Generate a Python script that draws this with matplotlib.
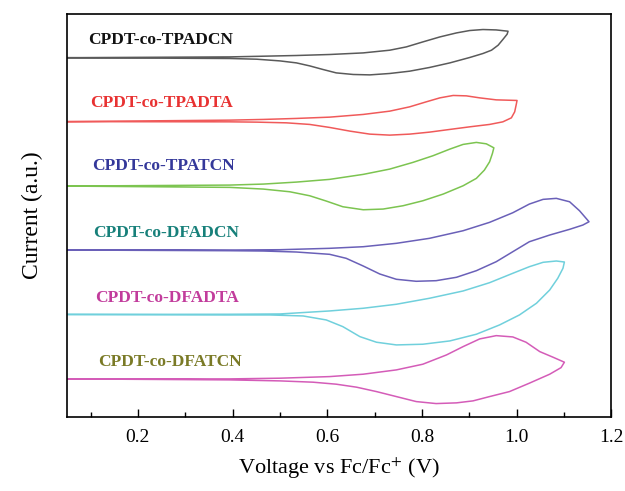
import numpy as np
import matplotlib.pyplot as plt
from matplotlib.ticker import MultipleLocator

plt.rcParams['font.family'] = ['Liberation Serif', 'DejaVu Serif']
plt.rcParams['mathtext.fontset'] = 'stix'

names = ["CPDT-co-TPADCN", "CPDT-co-TPADTA", "CPDT-co-TPATCN",
         "CPDT-co-DFADCN", "CPDT-co-DFADTA", "CPDT-co-DFATCN"]
label_colors = ["#111111", "#e83232", "#34389a", "#17807a", "#c23c9c", "#7a7a26"]
line_colors = ["#5a5a5a", "#f05a5a", "#7cc450", "#6a60b8", "#70d0dc", "#d45cb8"]
offsets = [359.5, 295.5, 231, 167, 102.5, 38]

# each scan: forward branch then reverse branch; V vs Fc/Fc+ and current (a.u.)
v_tpadcn = [0.050, 0.394, 0.465, 0.535, 0.605, 0.676, 0.732, 0.767, 0.802, 0.838,
            0.873, 0.901, 0.929, 0.957, 0.982, 0.980, 0.971, 0.961, 0.947, 0.929,
            0.901, 0.859, 0.816, 0.774, 0.732, 0.690, 0.655, 0.619, 0.591, 0.563,
            0.535, 0.500, 0.451, 0.394, 0.050]
i_tpadcn = [0, 0.8, 1.5, 2.2, 3.2, 4.8, 7.5, 10.8, 15.8, 20.8,
            24.8, 27.2, 28.2, 27.8, 26.5, 23.5, 18.2, 12.5, 7.5, 4.2,
            0.2, -5.2, -9.8, -13.5, -15.8, -17.2, -16.8, -15.2, -11.8, -8.2,
            -5.2, -3.2, -1.5, -0.8, 0]

v_tpadta = [0.050, 0.394, 0.465, 0.535, 0.605, 0.676, 0.732, 0.774, 0.809, 0.838,
            0.866, 0.894, 0.922, 0.957, 1.001, 0.999, 0.996, 0.989, 0.971, 0.943,
            0.901, 0.859, 0.816, 0.774, 0.732, 0.690, 0.648, 0.605, 0.563, 0.514,
            0.451, 0.394, 0.050]
i_tpadta = [0, 1.5, 2.2, 3.2, 4.5, 7.2, 10.5, 14.8, 19.8, 23.8,
            26.2, 25.8, 23.8, 21.8, 21.2, 16.5, 9.8, 3.8, -0.2, -2.8,
            -5.2, -7.8, -10.5, -12.5, -13.5, -12.5, -9.5, -5.8, -2.8, -1.2,
            -0.5, -0.2, 0]

v_tpatcn = [0.050, 0.394, 0.465, 0.535, 0.605, 0.676, 0.732, 0.781, 0.823, 0.859,
            0.887, 0.915, 0.936, 0.952, 0.949, 0.943, 0.932, 0.915, 0.887, 0.845,
            0.802, 0.760, 0.718, 0.676, 0.633, 0.598, 0.563, 0.521, 0.465, 0.394,
            0.050]
i_tpatcn = [0, 1, 2, 4, 6.7, 11.7, 17, 23.7, 30.3, 37,
            41.7, 43.7, 42.3, 38.3, 32.7, 24.3, 16, 7.7, 0.3, -8,
            -14.7, -19.7, -23, -23.7, -20.7, -15, -9.7, -5.7, -3, -1.3,
            0]

v_dfadcn = [0.050, 0.394, 0.500, 0.605, 0.676, 0.746, 0.816, 0.887, 0.943, 0.992,
            1.027, 1.056, 1.084, 1.112, 1.133, 1.153, 1.140, 1.112, 1.070, 1.027,
            0.992, 0.957, 0.915, 0.873, 0.830, 0.788, 0.746, 0.711, 0.676, 0.640,
            0.605, 0.535, 0.465, 0.394, 0.050]
i_dfadcn = [0, 0, 0.3, 1.7, 3.3, 6.7, 11.7, 19.3, 27.7, 37.3,
            46, 50.7, 51.7, 48.3, 39.3, 28.3, 25, 20.7, 15, 8.3,
            -1.7, -11.7, -20.7, -27.3, -30.7, -31.3, -29.3, -24, -16, -8.3,
            -4.3, -2, -1, -0.7, 0]

v_dfadta = [0.050, 0.394, 0.500, 0.605, 0.676, 0.746, 0.816, 0.887, 0.943, 0.992,
            1.027, 1.056, 1.084, 1.101, 1.098, 1.087, 1.070, 1.042, 1.006, 0.964,
            0.915, 0.859, 0.802, 0.746, 0.704, 0.669, 0.633, 0.598, 0.549, 0.479,
            0.394, 0.050]
i_dfadta = [0, 0.2, 0.5, 3.5, 6.2, 10.2, 16.2, 23.5, 31.8, 41.2,
            47.8, 52.2, 53.5, 52.5, 46.2, 36.2, 24.5, 11.2, -0.5, -10.5,
            -19.8, -26.5, -29.8, -30.5, -27.8, -22.2, -12.2, -5.5, -1.5, -0.5,
            -0.5, 0]

v_dfatcn = [0.050, 0.394, 0.500, 0.605, 0.676, 0.746, 0.802, 0.852, 0.887, 0.922,
            0.957, 0.992, 1.020, 1.049, 1.077, 1.101, 1.094, 1.070, 1.027, 0.985,
            0.943, 0.908, 0.873, 0.830, 0.788, 0.746, 0.704, 0.662, 0.619, 0.570,
            0.500, 0.394, 0.050]
i_dfatcn = [0, 0, 0.7, 2.3, 4.7, 9, 14.7, 24, 32.3, 40,
            43.3, 42, 36.7, 27.3, 21.7, 16.7, 11.3, 4.7, -4.3, -12.7,
            -17.7, -22, -24, -24.7, -22.7, -17.7, -12.7, -8.3, -5.3, -3.3,
            -2, -1, 0]

v_scans = [v_tpadcn, v_tpadta, v_tpatcn, v_dfadcn, v_dfadta, v_dfatcn]
i_scans = [i_tpadcn, i_tpadta, i_tpatcn, i_dfadcn, i_dfadta, i_dfatcn]

label_x = [0.095, 0.099, 0.104, 0.105, 0.109, 0.115]
label_y = [377, 314.5, 251.5, 184, 119, 55]

fig = plt.figure(figsize=(6.25, 4.91), dpi=100)
ax = fig.add_axes([0.107, 0.151, 0.871, 0.820])

for k in range(len(names)):
    y = np.array(i_scans[k]) + offsets[k]
    ax.plot(v_scans[k], y, color=line_colors[k], lw=1.1,
            solid_joinstyle='round', solid_capstyle='round')
    ax.text(label_x[k], label_y[k], names[k], color=label_colors[k],
            fontsize=12.5, fontweight='bold', va='center', ha='left')

ax.set_xlim(0.05, 1.2)
ax.set_ylim(0, 403)
ax.set_xticks([0.2, 0.4, 0.6, 0.8, 1.0, 1.2])
ax.set_xticklabels(["0.2", "0.4", "0.6", "0.8", "1.0", "1.2"])
ax.xaxis.set_minor_locator(MultipleLocator(0.1))
ax.tick_params(axis='x', which='major', direction='in', length=6, width=1,
               labelsize=14, pad=9)
ax.tick_params(axis='x', which='minor', direction='in', length=3.5, width=1)
ax.set_yticks([])
for s in ax.spines.values():
    s.set_linewidth(1.2)

ax.set_xlabel("Voltage vs Fc/Fc$^{+}$ (V)", fontsize=16, labelpad=7)
ax.set_ylabel("Current (a.u.)", fontsize=17, labelpad=17)

fig.savefig("out.png", dpi=100)
